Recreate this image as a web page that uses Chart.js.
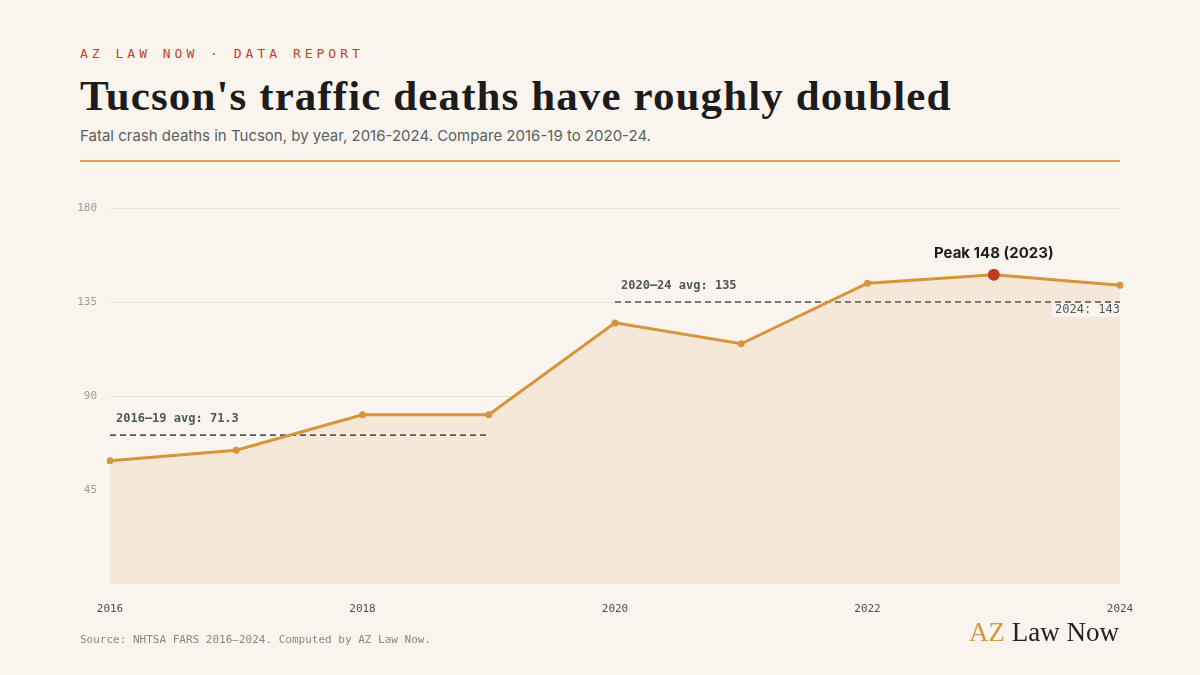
<!DOCTYPE html>
<html>
<head>
<meta charset="utf-8">
<script src="https://cdn.jsdelivr.net/npm/chart.js@4.4.1/dist/chart.umd.min.js"></script>
<style>
  html, body { margin: 0; padding: 0; background: #f9f5ee; }
  body { width: 1200px; height: 675px; position: relative; overflow: hidden; }
  .kicker { position: absolute; left: 80px; top: 46px; font: 13px "DejaVu Sans Mono", monospace; letter-spacing: 4px; color: #c0432c; }
  .title { position: absolute; left: 80px; top: 71px; font: bold 43px "Liberation Serif", serif; letter-spacing: 1.1px; color: #1c1c1c; white-space: nowrap; }
  .sub { position: absolute; left: 80px; top: 126px; font: 15px Inter, sans-serif; color: #59605f; }
  .rule { position: absolute; left: 80px; top: 160px; width: 1040px; height: 2px; background: #d9a45a; }
  .source { position: absolute; left: 80px; top: 633px; font: 11px "DejaVu Sans Mono", monospace; color: #8c877b; }
  .logo { position: absolute; right: 81px; top: 617px; font: 27px "Liberation Serif", serif; color: #222; }
  .logo span { color: #d8973e; }
  #wrap { position: absolute; left: 0; top: 0; width: 1200px; height: 675px; }
</style>
</head>
<body>
<div class="kicker">AZ LAW NOW · DATA REPORT</div>
<div class="title">Tucson's traffic deaths have roughly doubled</div>
<div class="sub">Fatal crash deaths in Tucson, by year, 2016-2024. Compare 2016-19 to 2020-24.</div>
<div class="rule"></div>
<div id="wrap"><canvas id="grafico"></canvas></div>
<div class="source">Source: NHTSA FARS 2016–2024. Computed by AZ Law Now.</div>
<div class="logo"><span>AZ</span> Law Now</div>
<script>
// Datos
const years = ['2016', '2017', '2018', '2019', '2020', '2021', '2022', '2023', '2024'];
const deaths = [59, 64, 81, 81, 125, 115, 144, 148, 143];
const yTicks = [45, 90, 135, 180];
const periodBefore = ['2016', '2019'];
const periodAfter = ['2020', '2024'];

const MONO = '"DejaVu Sans Mono", monospace';
const peakIdx = deaths.indexOf(Math.max(...deaths));

function avgOf(range) {
    const a = years.indexOf(range[0]), b = years.indexOf(range[1]);
    const vals = deaths.slice(a, b + 1);
    return vals.reduce((s, v) => s + v, 0) / vals.length;
}
const avgBefore = avgOf(periodBefore);
const avgAfter = avgOf(periodAfter);

// Anotaciones: líneas de promedio y etiquetas
const annotations = {
    id: 'annotations',
    beforeDatasetsDraw(chart) {
        const { ctx, scales: { x, y } } = chart;
        ctx.save();
        ctx.strokeStyle = '#4f5757';
        ctx.lineWidth = 1.6;
        ctx.setLineDash([6, 4]);
        [[periodBefore, avgBefore], [periodAfter, avgAfter]].forEach(([range, avg]) => {
            const yy = y.getPixelForValue(avg);
            ctx.beginPath();
            ctx.moveTo(x.getPixelForValue(years.indexOf(range[0])), yy);
            ctx.lineTo(x.getPixelForValue(years.indexOf(range[1])), yy);
            ctx.stroke();
        });
        ctx.restore();
    },
    afterDatasetsDraw(chart) {
        const { ctx, scales: { x, y } } = chart;
        ctx.save();
        ctx.font = 'bold 12px ' + MONO;
        ctx.fillStyle = '#4f5757';
        ctx.textBaseline = 'middle';
        ctx.textAlign = 'left';
        [[periodBefore, avgBefore], [periodAfter, avgAfter]].forEach(([range, avg]) => {
            const label = range[0] + '–' + range[1].slice(2) + ' avg: ' + parseFloat(avg.toFixed(1));
            ctx.fillText(label, x.getPixelForValue(years.indexOf(range[0])) + 6, y.getPixelForValue(avg) - 16);
        });

        // Último valor
        const last = deaths.length - 1;
        const lastText = years[last] + ': ' + deaths[last];
        ctx.font = '12px ' + MONO;
        const w = ctx.measureText(lastText).width;
        const rx = x.getPixelForValue(last);
        const ry = y.getPixelForValue(avgAfter) + 8;
        ctx.fillStyle = '#f9f5ee';
        ctx.fillRect(rx - w - 3, ry - 7, w + 3, 14);
        ctx.fillStyle = '#4f5757';
        ctx.textAlign = 'right';
        ctx.fillText(lastText, rx, ry);

        // Pico
        ctx.font = 'bold 15px Inter, sans-serif';
        ctx.fillStyle = '#1c1c1c';
        ctx.textAlign = 'center';
        ctx.fillText('Peak ' + deaths[peakIdx] + ' (' + years[peakIdx] + ')',
            x.getPixelForValue(peakIdx), y.getPixelForValue(deaths[peakIdx]) - 21);
        ctx.restore();
    }
};

new Chart(document.getElementById('grafico').getContext('2d'), {
    type: 'line',
    data: {
        labels: years,
        datasets: [{
            data: deaths,
            borderColor: '#d8943b',
            borderWidth: 3,
            backgroundColor: '#f5e8d8',
            fill: 'origin',
            tension: 0,
            pointRadius: deaths.map((v, i) => i === peakIdx ? 6 : 3.5),
            pointBackgroundColor: deaths.map((v, i) => i === peakIdx ? '#c23a22' : '#d8943b'),
            pointBorderWidth: 0,
            pointHoverRadius: 0
        }]
    },
    options: {
        responsive: true,
        maintainAspectRatio: false,
        animation: false,
        layout: { padding: { left: 60, right: 80, top: 208, bottom: 51 } },
        plugins: {
            legend: { display: false },
            tooltip: { enabled: false },
            filler: { drawTime: 'beforeDatasetsDraw' }
        },
        scales: {
            x: {
                offset: false,
                grid: { display: false },
                border: { display: false },
                afterFit: s => { s.height = 40; },
                ticks: {
                    autoSkip: false,
                    maxRotation: 0,
                    padding: 11,
                    color: '#4a5151',
                    font: { family: MONO, size: 11 },
                    callback: (v, i) => i % 2 === 0 ? years[i] : ''
                }
            },
            y: {
                min: 0,
                max: yTicks[yTicks.length - 1],
                afterFit: s => { s.width = 50; },
                afterBuildTicks: s => { s.ticks = [0, ...yTicks].map(v => ({ value: v })); },
                border: { display: false },
                grid: {
                    drawTicks: false,
                    lineWidth: 1,
                    color: c => c.tick.value === 0 ? 'rgba(0,0,0,0)' : '#ece3d4'
                },
                ticks: {
                    padding: 13,
                    color: '#a29b8e',
                    font: { family: MONO, size: 11 },
                    callback: v => v === 0 ? '' : v
                }
            }
        }
    },
    plugins: [annotations]
});
</script>
</body>
</html>
